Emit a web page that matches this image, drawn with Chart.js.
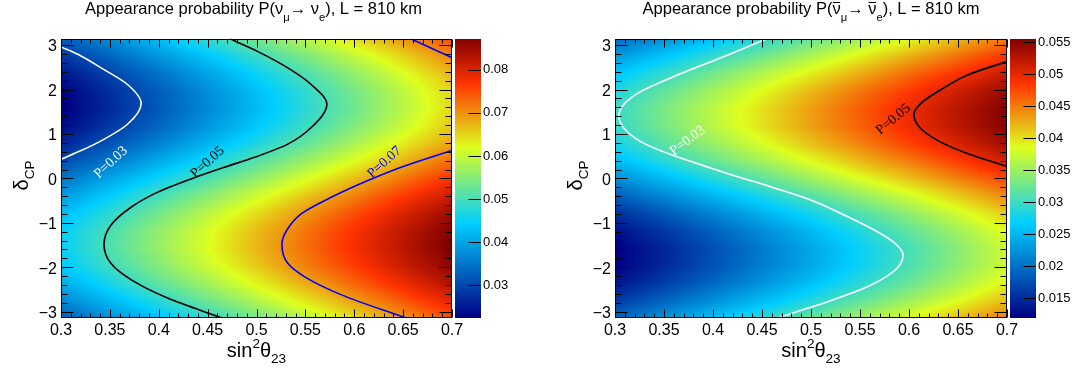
<!DOCTYPE html>
<html>
<head>
<meta charset="utf-8">
<title>Appearance probability, L = 810 km</title>
<script src="https://cdn.jsdelivr.net/npm/chart.js@4.4.0/dist/chart.umd.min.js"></script>
<style>
  html, body { margin: 0; padding: 0; background: #fff; }
  #wrap { position: relative; width: 1075px; height: 374px; overflow: hidden; }
  #wrap canvas { position: absolute; top: 0; }
</style>
</head>
<body>
<div id="wrap">
  <canvas id="nu" width="540" height="374" style="left:0"></canvas>
  <canvas id="nubar" width="535" height="374" style="left:540px"></canvas>
</div>
<script>
// grid columns (sin^2 theta23) and rows (delta_CP, -pi .. pi)
const sin2Theta23 = [0.30, 0.35, 0.40, 0.45, 0.50, 0.55, 0.60, 0.65, 0.70];
const deltaCP = [-3.1416, -2.7489, -2.3562, -1.9635, -1.5708, -1.1781, -0.7854, -0.3927, 0,
                 0.3927, 0.7854, 1.1781, 1.5708, 1.9635, 2.3562, 2.7489, 3.1416];

// P(nu_mu -> nu_e), one row per deltaCP value
const probNu = [
  [0.0323, 0.0376, 0.0429, 0.0482, 0.0535, 0.0589, 0.0642, 0.0696, 0.0750],
  [0.0368, 0.0422, 0.0476, 0.0530, 0.0584, 0.0637, 0.0690, 0.0742, 0.0794],
  [0.0407, 0.0463, 0.0519, 0.0573, 0.0627, 0.0680, 0.0732, 0.0783, 0.0834],
  [0.0436, 0.0493, 0.0549, 0.0604, 0.0658, 0.0711, 0.0762, 0.0813, 0.0862],
  [0.0449, 0.0507, 0.0563, 0.0618, 0.0672, 0.0725, 0.0776, 0.0826, 0.0875],
  [0.0444, 0.0502, 0.0559, 0.0614, 0.0668, 0.0720, 0.0772, 0.0822, 0.0871],
  [0.0423, 0.0480, 0.0536, 0.0591, 0.0645, 0.0697, 0.0749, 0.0800, 0.0850],
  [0.0389, 0.0444, 0.0499, 0.0553, 0.0607, 0.0660, 0.0712, 0.0764, 0.0815],
  [0.0346, 0.0400, 0.0453, 0.0507, 0.0560, 0.0613, 0.0667, 0.0720, 0.0772],
  [0.0301, 0.0353, 0.0406, 0.0458, 0.0512, 0.0565, 0.0619, 0.0673, 0.0728],
  [0.0262, 0.0312, 0.0363, 0.0416, 0.0468, 0.0522, 0.0577, 0.0632, 0.0688],
  [0.0233, 0.0283, 0.0333, 0.0385, 0.0437, 0.0491, 0.0546, 0.0602, 0.0660],
  [0.0220, 0.0269, 0.0319, 0.0370, 0.0423, 0.0477, 0.0532, 0.0589, 0.0647],
  [0.0225, 0.0273, 0.0324, 0.0375, 0.0428, 0.0482, 0.0537, 0.0593, 0.0651],
  [0.0246, 0.0295, 0.0346, 0.0398, 0.0451, 0.0505, 0.0559, 0.0615, 0.0672],
  [0.0280, 0.0331, 0.0383, 0.0435, 0.0488, 0.0542, 0.0596, 0.0651, 0.0707],
  [0.0323, 0.0376, 0.0429, 0.0482, 0.0535, 0.0589, 0.0642, 0.0696, 0.0750]
];

// P(anti-nu_mu -> anti-nu_e)
const probNuBar = [
  [0.0193, 0.0225, 0.0257, 0.0289, 0.0321, 0.0353, 0.0386, 0.0419, 0.0451],
  [0.0160, 0.0191, 0.0222, 0.0253, 0.0285, 0.0318, 0.0351, 0.0384, 0.0418],
  [0.0134, 0.0164, 0.0194, 0.0225, 0.0257, 0.0289, 0.0323, 0.0357, 0.0392],
  [0.0119, 0.0148, 0.0178, 0.0209, 0.0240, 0.0273, 0.0307, 0.0342, 0.0377],
  [0.0118, 0.0146, 0.0176, 0.0207, 0.0239, 0.0271, 0.0305, 0.0340, 0.0376],
  [0.0130, 0.0159, 0.0189, 0.0220, 0.0252, 0.0284, 0.0318, 0.0352, 0.0388],
  [0.0153, 0.0183, 0.0214, 0.0246, 0.0277, 0.0310, 0.0343, 0.0377, 0.0411],
  [0.0185, 0.0217, 0.0248, 0.0280, 0.0312, 0.0345, 0.0377, 0.0410, 0.0443],
  [0.0220, 0.0253, 0.0286, 0.0318, 0.0351, 0.0383, 0.0415, 0.0447, 0.0478],
  [0.0253, 0.0288, 0.0321, 0.0354, 0.0387, 0.0419, 0.0450, 0.0481, 0.0511],
  [0.0279, 0.0315, 0.0349, 0.0382, 0.0415, 0.0447, 0.0478, 0.0508, 0.0537],
  [0.0294, 0.0330, 0.0365, 0.0399, 0.0431, 0.0463, 0.0494, 0.0524, 0.0552],
  [0.0296, 0.0332, 0.0367, 0.0400, 0.0433, 0.0465, 0.0496, 0.0525, 0.0554],
  [0.0284, 0.0319, 0.0354, 0.0387, 0.0420, 0.0452, 0.0483, 0.0513, 0.0542],
  [0.0260, 0.0295, 0.0329, 0.0362, 0.0394, 0.0426, 0.0458, 0.0488, 0.0518],
  [0.0229, 0.0262, 0.0295, 0.0327, 0.0360, 0.0392, 0.0424, 0.0455, 0.0487],
  [0.0193, 0.0225, 0.0257, 0.0289, 0.0321, 0.0353, 0.0386, 0.0419, 0.0451]
];

// contour lines, [sin^2 theta23, deltaCP]
const nuP003 = [[0.300, 2.960], [0.320, 2.760], [0.341, 2.487], [0.368, 2.113], [0.382, 1.688],
                [0.368, 1.219], [0.341, 0.845], [0.320, 0.620], [0.300, 0.430]];
const nuP005 = [[0.473, 3.142], [0.501, 2.858], [0.532, 2.487], [0.556, 2.113], [0.572, 1.666],
                [0.556, 1.145], [0.532, 0.771], [0.498, 0.474], [0.467, 0.250], [0.433, -0.011],
                [0.399, -0.309], [0.372, -0.644], [0.351, -1.055], [0.344, -1.480], [0.351, -1.912],
                [0.372, -2.285], [0.409, -2.694], [0.465, -3.142]];
const nuP007top = [[0.658, 3.142], [0.679, 2.930], [0.700, 2.715]];
const nuP007 = [[0.700, 0.630], [0.648, 0.250], [0.614, -0.049], [0.577, -0.420], [0.546, -0.794],
                [0.531, -1.167], [0.526, -1.480], [0.532, -1.912], [0.549, -2.209], [0.587, -2.621],
                [0.653, -3.142]];
const nuBarP003 = [[0.455, 3.142], [0.416, 2.784], [0.365, 2.337], [0.327, 1.963], [0.309, 1.666],
                   [0.304, 1.404], [0.310, 1.107], [0.331, 0.771], [0.365, 0.474], [0.416, 0.101],
                   [0.460, -0.197], [0.501, -0.496], [0.531, -0.794], [0.565, -1.167], [0.586, -1.465],
                   [0.594, -1.726], [0.586, -2.062], [0.558, -2.433], [0.518, -2.768], [0.497, -2.918],
                   [0.466, -3.142]];
const nuBarP005 = [[0.700, 2.630], [0.661, 2.337], [0.633, 2.001], [0.613, 1.704], [0.605, 1.442],
                   [0.611, 1.145], [0.630, 0.845], [0.661, 0.548], [0.700, 0.270]];

// axis ticks and colour ranges
const xTickValues = [0.3, 0.35, 0.4, 0.45, 0.5, 0.55, 0.6, 0.65, 0.7];
const yTickValues = [-3, -2, -1, 0, 1, 2, 3];
const zTicksNu = [0.03, 0.04, 0.05, 0.06, 0.07, 0.08];
const zTicksNuBar = [0.015, 0.02, 0.025, 0.03, 0.035, 0.04, 0.045, 0.05, 0.055];
const zRangeNu = [0.0224, 0.0872];
const zRangeNuBar = [0.0119, 0.0555];

// palette (ROOT style rainbow)
const paletteStops = [0.00, 0.34, 0.61, 0.84, 1.00];
const paletteRed   = [0.00, 0.00, 0.87, 1.00, 0.51];
const paletteGreen = [0.00, 0.81, 1.00, 0.20, 0.00];
const paletteBlue  = [0.51, 1.00, 0.12, 0.00, 0.00];

const FONT = '"Liberation Sans", Arial, Helvetica, sans-serif';
const SERIF = '"Liberation Serif", "Times New Roman", serif';

function palette(t) {
  t = Math.max(0, Math.min(1, t));
  let i = 0;
  while (i < paletteStops.length - 2 && t > paletteStops[i + 1]) i++;
  const f = (t - paletteStops[i]) / (paletteStops[i + 1] - paletteStops[i]);
  const mix = a => Math.round(255 * (a[i] + (a[i + 1] - a[i]) * f));
  return [mix(paletteRed), mix(paletteGreen), mix(paletteBlue)];
}

function locate(arr, v) {
  if (v <= arr[0]) return [0, 0];
  if (v >= arr[arr.length - 1]) return [arr.length - 2, 1];
  let i = 0;
  while (v > arr[i + 1]) i++;
  return [i, (v - arr[i]) / (arr[i + 1] - arr[i])];
}

// text with sub/superscripts and overlines
function drawRich(ctx, parts, x, y, size, subDy) {
  const items = parts.map(([text, kind]) => {
    const small = kind === 'sub' || kind === 'sup';
    const fs = small ? size * 0.68 : size;
    ctx.font = fs + 'px ' + FONT;
    const dy = kind === 'sub' ? size * subDy : kind === 'sup' ? -size * 0.45 : 0;
    return { text, kind, fs, dy, w: ctx.measureText(text).width };
  });
  const total = items.reduce((a, it) => a + it.w, 0);
  let cx = x - total / 2;
  ctx.textAlign = 'left';
  ctx.textBaseline = 'alphabetic';
  for (const it of items) {
    ctx.font = it.fs + 'px ' + FONT;
    ctx.fillText(it.text, cx, y + it.dy);
    if (it.kind === 'bar') {
      const by = Math.round(y - size * 0.72) + 0.5;
      ctx.beginPath();
      ctx.lineWidth = 1;
      ctx.moveTo(cx + 0.5, by);
      ctx.lineTo(cx + it.w - 0.5, by);
      ctx.stroke();
    }
    cx += it.w;
  }
}

function panelPlugin(cfg) {
  return {
    id: 'panel',
    beforeDatasetsDraw(chart) {
      const { ctx, chartArea: a, scales: { x, y } } = chart;
      const w = Math.round(a.right - a.left), h = Math.round(a.bottom - a.top);
      const off = document.createElement('canvas');
      off.width = w; off.height = h;
      const octx = off.getContext('2d');
      const img = octx.createImageData(w, h);
      const cols = [], rows = [];
      for (let i = 0; i < w; i++) cols.push(locate(sin2Theta23, x.getValueForPixel(a.left + i + 0.5)));
      for (let j = 0; j < h; j++) rows.push(locate(deltaCP, y.getValueForPixel(a.top + j + 0.5)));
      const g = cfg.grid, [z0, z1] = cfg.zRange;
      for (let j = 0; j < h; j++) {
        const [r, tr] = rows[j];
        for (let i = 0; i < w; i++) {
          const [c, tc] = cols[i];
          const v = (1 - tr) * ((1 - tc) * g[r][c] + tc * g[r][c + 1]) +
                    tr * ((1 - tc) * g[r + 1][c] + tc * g[r + 1][c + 1]);
          const col = palette((v - z0) / (z1 - z0));
          const k = (j * w + i) * 4;
          img.data[k] = col[0]; img.data[k + 1] = col[1]; img.data[k + 2] = col[2]; img.data[k + 3] = 255;
        }
      }
      octx.putImageData(img, 0, 0);
      ctx.drawImage(off, Math.round(a.left), Math.round(a.top));
    },
    afterDatasetsDraw(chart) {
      const { ctx, chartArea: a, scales: { x, y, z } } = chart;
      ctx.save();

      // contour labels
      ctx.font = '14px ' + SERIF;
      ctx.textAlign = 'center';
      ctx.textBaseline = 'middle';
      for (const lb of cfg.labels) {
        ctx.save();
        ctx.translate(x.getPixelForValue(lb.s), y.getPixelForValue(lb.d));
        ctx.rotate(-lb.angle * Math.PI / 180);
        ctx.fillStyle = lb.color;
        ctx.fillText(lb.text, 0, 0);
        ctx.restore();
      }

      // frame and inward ticks
      const L = Math.round(a.left) + 0.5, R = Math.round(a.right) - 0.5;
      const T = Math.round(a.top) + 0.5, B = Math.round(a.bottom) - 0.5;
      ctx.strokeStyle = '#000';
      ctx.lineWidth = 1;
      ctx.strokeRect(L, T, R - L, B - T);
      ctx.beginPath();
      for (let i = 0; i <= 40; i++) {
        const px = Math.round(x.getPixelForValue(0.3 + i * 0.01)) + 0.5;
        const len = i % 5 === 0 ? 8 : 4;
        ctx.moveTo(px, B); ctx.lineTo(px, B - len);
        ctx.moveTo(px, T); ctx.lineTo(px, T + len);
      }
      for (let i = -15; i <= 15; i++) {
        const py = Math.round(y.getPixelForValue(i * 0.2)) + 0.5;
        const len = i % 5 === 0 ? 12 : 6;
        ctx.moveTo(L, py); ctx.lineTo(L + len, py);
        ctx.moveTo(R, py); ctx.lineTo(R - len, py);
      }
      ctx.stroke();

      // colour bar
      const [z0, z1] = cfg.zRange;
      const bx = Math.round(a.right) + 3, bw = 26;
      for (let py = Math.round(a.top); py < Math.round(a.bottom); py++) {
        const c = palette((z.getValueForPixel(py + 0.5) - z0) / (z1 - z0));
        ctx.fillStyle = 'rgb(' + c[0] + ',' + c[1] + ',' + c[2] + ')';
        ctx.fillRect(bx, py, bw, 1);
      }
      ctx.beginPath();
      for (const v of cfg.zTicks) {
        const py = Math.round(z.getPixelForValue(v)) + 0.5;
        ctx.moveTo(bx + bw, py); ctx.lineTo(bx + bw - 12.5, py);
      }
      ctx.stroke();

      // titles
      ctx.fillStyle = '#000';
      ctx.strokeStyle = '#000';
      const cx = (a.left + a.right) / 2;
      drawRich(ctx, cfg.title, cx + cfg.titleDx, 14, 16.5, 0.42);
      drawRich(ctx, [['sin', ''], ['2', 'sup'], ['\u03b8', ''], ['23', 'sub']], cx, 357, 20, 0.3);
      ctx.save();
      ctx.translate(a.left - 33, (a.top + a.bottom) / 2 - 3);
      ctx.rotate(-Math.PI / 2);
      drawRich(ctx, [['\u03b4', ''], ['CP', 'sub']], 0, 0, 20, 0.3);
      ctx.restore();

      ctx.restore();
    }
  };
}

function makePanel(id, cfg) {
  const datasets = [];
  cfg.contours.forEach(c => c.segments.forEach(seg => datasets.push({
    type: 'line',
    indexAxis: 'y',
    data: seg.map(p => ({ x: p[0], y: p[1] })).sort((p, q) => p.y - q.y),
    borderColor: c.color,
    borderWidth: 1.6,
    pointRadius: 0,
    fill: false,
    cubicInterpolationMode: 'monotone'
  })));
  const tickFont = { family: FONT, size: 16 };
  return new Chart(document.getElementById(id), {
    type: 'scatter',
    data: { datasets },
    options: {
      responsive: false,
      animation: false,
      events: [],
      layout: { padding: { top: 36, left: 0, right: 0, bottom: 0 } },
      plugins: { legend: { display: false }, tooltip: { enabled: false } },
      scales: {
        x: {
          type: 'linear', min: 0.3, max: 0.7,
          afterBuildTicks: s => { s.ticks = xTickValues.map(v => ({ value: v })); },
          afterFit: s => { s.height = 56; },
          grid: { display: false, drawTicks: false },
          border: { display: false },
          ticks: { color: '#000', font: tickFont, padding: 3, maxRotation: 0, autoSkip: false,
                   callback: v => String(+v.toFixed(2)) }
        },
        y: {
          type: 'linear', min: deltaCP[0], max: deltaCP[deltaCP.length - 1],
          afterBuildTicks: s => { s.ticks = yTickValues.map(v => ({ value: v })); },
          afterFit: s => { s.width = cfg.leftWidth; },
          grid: { display: false, drawTicks: false },
          border: { display: false },
          ticks: { color: '#000', font: tickFont, padding: 4, labelOffset: 2, autoSkip: false,
                   callback: v => v < 0 ? '\u2212' + (-v) : String(v) }
        },
        z: {
          type: 'linear', position: 'right', min: cfg.zRange[0], max: cfg.zRange[1],
          afterBuildTicks: s => { s.ticks = cfg.zTicks.map(v => ({ value: v })); },
          afterFit: s => { s.width = cfg.rightWidth; },
          grid: { display: false, drawTicks: false },
          border: { display: false },
          ticks: { color: '#000', font: { family: FONT, size: 13 }, padding: 31, autoSkip: false,
                   callback: v => String(+v.toFixed(3)) }
        }
      }
    },
    plugins: [panelPlugin(cfg)]
  });
}

makePanel('nu', {
  grid: probNu,
  zRange: zRangeNu,
  zTicks: zTicksNu,
  leftWidth: 61,
  rightWidth: 88,
  titleDx: -3,
  title: [['Appearance probability P(', ''], ['\u03bd', ''], ['\u03bc', 'sub'], ['\u2192 ', ''],
          ['\u03bd', ''], ['e', 'sub'], ['), L = 810 km', '']],
  contours: [
    { color: '#ffffff', segments: [nuP003] },
    { color: '#000000', segments: [nuP005] },
    { color: '#0000ff', segments: [nuP007top, nuP007] }
  ],
  labels: [
    { text: 'P=0.03', s: 0.351, d: 0.36, angle: 43, color: '#ffffff' },
    { text: 'P=0.05', s: 0.450, d: 0.36, angle: 42, color: '#000000' },
    { text: 'P=0.07', s: 0.631, d: 0.36, angle: 42, color: '#0000ff' }
  ]
});

makePanel('nubar', {
  grid: probNuBar,
  zRange: zRangeNuBar,
  zTicks: zTicksNuBar,
  leftWidth: 75,
  rightWidth: 68,
  titleDx: 0,
  title: [['Appearance probability P(', ''], ['\u03bd', 'bar'], ['\u03bc', 'sub'], ['\u2192 ', ''],
          ['\u03bd', 'bar'], ['e', 'sub'], ['), L = 810 km', '']],
  contours: [
    { color: '#ffffff', segments: [nuBarP003] },
    { color: '#000000', segments: [nuBarP005] }
  ],
  labels: [
    { text: 'P=0.03', s: 0.374, d: 0.85, angle: 37, color: '#ffffff' },
    { text: 'P=0.05', s: 0.584, d: 1.33, angle: 40, color: '#000000' }
  ]
});
</script>
</body>
</html>
